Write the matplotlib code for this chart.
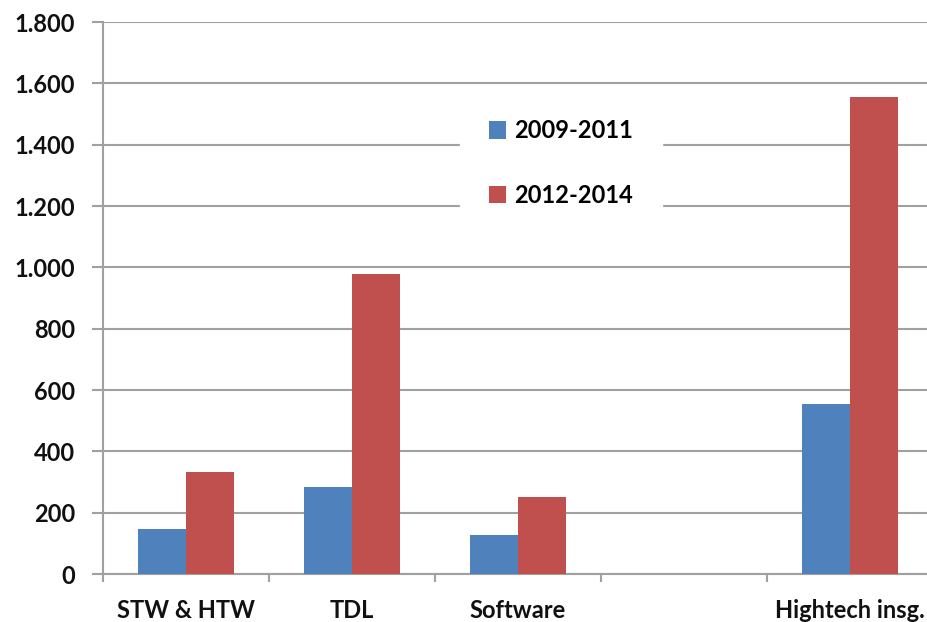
import matplotlib
matplotlib.use("Agg")
import matplotlib.pyplot as plt
import numpy as np
from matplotlib.ticker import FuncFormatter

categories = ["STW & HTW", "TDL", "Software", "", "Hightech insg."]
series_names = ["2009-2011", "2012-2014"]
values_2009_2011 = [147, 284, 127, np.nan, 554]
values_2012_2014 = [333, 978, 251, np.nan, 1556]
yticks = [0, 200, 400, 600, 800, 1000, 1200, 1400, 1600, 1800]

blue = "#4F81BD"
red = "#C0504D"
grid_c = "#A0A0A0"

plt.rcParams['font.family'] = ['Lato', 'DejaVu Sans']
plt.rcParams['font.weight'] = 'bold'

fig = plt.figure(figsize=(9.28, 6.22), dpi=100)
W, H = 928, 622
ax = fig.add_axes([103 / W, 1 - 574 / H, 830 / W, 552 / H])

x = np.arange(len(categories))
bw = 48 / 166
ax.bar(x - bw / 2, values_2009_2011, width=bw, color=blue, label=series_names[0], zorder=3)
ax.bar(x + bw / 2, values_2012_2014, width=bw, color=red, label=series_names[1], zorder=3)

ax.set_xlim(-0.5, len(categories) - 0.5)
ax.set_ylim(0, 1800)
ax.set_yticks(yticks)
ax.yaxis.set_major_formatter(FuncFormatter(lambda v, p: f"{int(v):,}".replace(",", ".")))
ax.yaxis.grid(True, color=grid_c, linewidth=1.5, zorder=0)
ax.set_axisbelow(True)

ax.set_xticks(x)
ax.set_xticklabels(categories)
ax.set_xticks(np.arange(len(categories) + 1) - 0.5, minor=True)
ax.tick_params(axis='x', which='major', length=0, pad=18, labelsize=17)
ax.tick_params(axis='x', which='minor', length=6, width=1.5, color=grid_c, direction='out')
ax.tick_params(axis='y', length=8, width=1.5, color=grid_c, pad=12, labelsize=17)

for s in ['top', 'right']:
    ax.spines[s].set_visible(False)
for s in ['left', 'bottom']:
    ax.spines[s].set_color(grid_c)
    ax.spines[s].set_linewidth(1.5)

for lbl in ax.get_xticklabels() + ax.get_yticklabels():
    lbl.set_fontweight('bold')
    lbl.set_color('#111111')

leg = ax.legend(loc='center', bbox_to_anchor=(561 / W, 1 - 163 / H),
                bbox_transform=fig.transFigure, frameon=True, fancybox=False,
                edgecolor='white', facecolor='white', framealpha=1,
                prop={'size': 17, 'weight': 'bold'}, labelspacing=1.75,
                handlelength=0.75, handleheight=0.75, handletextpad=0.35,
                borderpad=1.2, borderaxespad=0)
leg.set_zorder(5)

fig.savefig("out.png", dpi=100)
